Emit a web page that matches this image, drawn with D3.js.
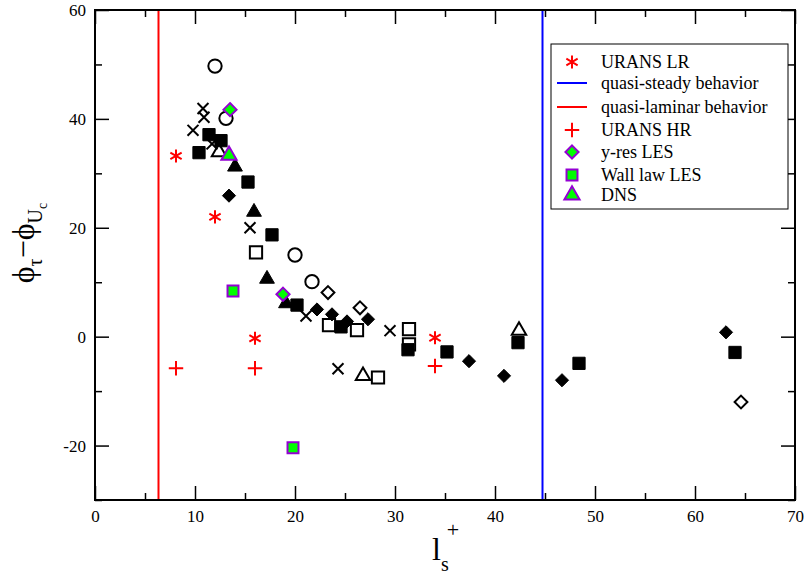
<!DOCTYPE html>
<html>
<head>
<meta charset="utf-8">
<script src="https://cdn.jsdelivr.net/npm/d3@7"></script>
<style>
  body { margin: 0; background: #fff; }
  svg { display: block; }
  .axis line { stroke: #000; stroke-width: 1.5; }
</style>
</head>
<body>
<div id="chart"></div>
<script>
// Phase difference vs. slip length, several simulation sets

const serif = '"Liberation Serif", "Times New Roman", serif';

// reference lines
const quasiLaminarX = [6.35];
const quasiSteadyX = [44.75];

// legend series
const uransLR = [[8.1, 33.2], [12.0, 22.0], [16.0, -0.3], [34.0, -0.2]];
const uransHR = [[8.1, -5.8], [16.0, -5.8], [34.0, -5.4]];
const yResLES = [[13.5, 41.7], [18.8, 7.8]];
const wallLawLES = [[13.8, 8.4], [19.8, -20.4]];
const dnsGreen = [[13.4, 33.3]];

// other data sets (black markers)
const openCircles = [[12.0, 49.7], [13.1, 40.1], [20.0, 15.0], [21.7, 10.1]];
const openSquares = [[16.1, 15.5], [23.4, 2.1], [26.2, 1.2], [28.3, -7.5], [31.4, 1.4], [31.4, -1.4]];
const openDiamonds = [[23.3, 8.1], [26.5, 5.3], [64.6, -12.0]];
const openTriangles = [[12.4, 33.9], [26.8, -7.2], [42.4, 1.1]];
const crosses = [[10.8, 41.9], [10.9, 40.3], [9.8, 37.9], [11.7, 35.4], [15.5, 20.0], [21.1, 3.8], [24.3, -5.9], [29.5, 1.1]];
const filledSquares = [[11.4, 37.1], [12.6, 36.0], [10.4, 33.8], [15.3, 28.4], [17.7, 18.7], [20.2, 5.8], [24.6, 1.8],
  [31.3, -2.4], [35.2, -2.8], [42.3, -1.1], [48.4, -4.9], [64.0, -2.9]];
const filledDiamonds = [[13.4, 25.9], [22.2, 5.0], [23.7, 4.1], [25.2, 2.8], [27.3, 3.2], [37.4, -4.5], [40.9, -7.2],
  [46.7, -8.0], [63.1, 0.8]];
const filledTriangles = [[14.0, 31.2], [15.9, 22.9], [17.2, 10.6], [19.1, 6.1]];

const xTicks = [0, 10, 20, 30, 40, 50, 60, 70];
const yTicks = [-20, 0, 20, 40, 60];

const W = 807, H = 577;
const svg = d3.select('#chart').append('svg').attr('width', W).attr('height', H)
  .attr('font-family', serif);

const x = d3.scaleLinear().domain([0, 70]).range([95, 795]);
const y = d3.scaleLinear().domain([-30, 60]).range([500, 10]);

const plotL = x(0), plotR = x(70), plotT = y(60), plotB = y(-30);

// Axes: ticks point inward on all four sides
function minor(step, domain) {
  return d3.range(domain[0], domain[1] + 0.001, step).filter(v => Math.abs(v % (step * 2)) > 1e-6);
}
const xMinor = minor(5, [0, 70]);
const yMinor = minor(10, [-30, 60]);
const label = d => String(d);

function addAxis(axis, tx, ty) {
  svg.append('g').attr('class', 'axis').attr('transform', `translate(${tx},${ty})`)
    .call(axis)
    .attr('font-family', serif)
    .attr('font-size', 17);
}

addAxis(d3.axisBottom(x).tickValues(xTicks).tickSizeInner(-14).tickSizeOuter(0).tickPadding(10).tickFormat(label), 0, plotB);
addAxis(d3.axisBottom(x).tickValues(xMinor).tickSizeInner(-7).tickSizeOuter(0).tickFormat(''), 0, plotB);
addAxis(d3.axisTop(x).tickValues(xTicks).tickSizeInner(-14).tickSizeOuter(0).tickFormat(''), 0, plotT);
addAxis(d3.axisTop(x).tickValues(xMinor).tickSizeInner(-7).tickSizeOuter(0).tickFormat(''), 0, plotT);
addAxis(d3.axisLeft(y).tickValues(yTicks).tickSizeInner(-14).tickSizeOuter(0).tickPadding(9).tickFormat(label), plotL, 0);
addAxis(d3.axisLeft(y).tickValues(yMinor).tickSizeInner(-7).tickSizeOuter(0).tickFormat(''), plotL, 0);
addAxis(d3.axisRight(y).tickValues(yTicks).tickSizeInner(-14).tickSizeOuter(0).tickFormat(''), plotR, 0);
addAxis(d3.axisRight(y).tickValues(yMinor).tickSizeInner(-7).tickSizeOuter(0).tickFormat(''), plotR, 0);

svg.selectAll('.axis .domain').remove();
svg.selectAll('.axis text').attr('fill', '#000');

// vertical behaviour limits
svg.selectAll('.vlam').data(quasiLaminarX).enter().append('line')
  .attr('x1', d => x(d)).attr('x2', d => x(d)).attr('y1', plotT).attr('y2', plotB)
  .attr('stroke', '#ff0000').attr('stroke-width', 2);
svg.selectAll('.vsteady').data(quasiSteadyX).enter().append('line')
  .attr('x1', d => x(d)).attr('x2', d => x(d)).attr('y1', plotT).attr('y2', plotB)
  .attr('stroke', '#0000ff').attr('stroke-width', 2);

// frame
svg.append('rect').attr('x', plotL).attr('y', plotT)
  .attr('width', plotR - plotL).attr('height', plotB - plotT)
  .attr('fill', 'none').attr('stroke', '#000').attr('stroke-width', 2);

// marker styles
const styles = {
  openCircle: { type: d3.symbolCircle, size: 140, fill: 'none', stroke: '#000', sw: 2 },
  openSquare: { type: d3.symbolSquare, size: 150, fill: 'none', stroke: '#000', sw: 2 },
  openDiamond: { type: d3.symbolDiamond2, size: 105, fill: 'none', stroke: '#000', sw: 2 },
  openTriangle: { type: d3.symbolTriangle, size: 90, fill: 'none', stroke: '#000', sw: 2 },
  cross: { type: d3.symbolTimes, size: 80, fill: 'none', stroke: '#000', sw: 2 },
  filledSquare: { type: d3.symbolSquare, size: 150, fill: '#000', stroke: '#000', sw: 1 },
  filledDiamond: { type: d3.symbolDiamond2, size: 110, fill: '#000', stroke: '#000', sw: 1 },
  filledTriangle: { type: d3.symbolTriangle, size: 95, fill: '#000', stroke: '#000', sw: 1 },
  asterisk: { type: d3.symbolAsterisk, size: 120, fill: 'none', stroke: '#ff0000', sw: 2 },
  plus: { type: d3.symbolPlus, size: 70, fill: 'none', stroke: '#ff0000', sw: 2 },
  greenDiamond: { type: d3.symbolDiamond2, size: 110, fill: '#00ff00', stroke: '#9400d3', sw: 2 },
  greenSquare: { type: d3.symbolSquare, size: 120, fill: '#00ff00', stroke: '#9400d3', sw: 2 },
  greenTriangle: { type: d3.symbolTriangle, size: 100, fill: '#00ff00', stroke: '#9400d3', sw: 2 }
};

function drawSeries(data, st) {
  const sym = d3.symbol().type(st.type).size(st.size);
  svg.append('g').selectAll('path').data(data).enter().append('path')
    .attr('transform', d => `translate(${x(d[0])},${y(d[1])})`)
    .attr('d', sym)
    .attr('fill', st.fill)
    .attr('stroke', st.stroke)
    .attr('stroke-width', st.sw);
}

drawSeries(openCircles, styles.openCircle);
drawSeries(openSquares, styles.openSquare);
drawSeries(openDiamonds, styles.openDiamond);
drawSeries(openTriangles, styles.openTriangle);
drawSeries(crosses, styles.cross);
drawSeries(filledSquares, styles.filledSquare);
drawSeries(filledDiamonds, styles.filledDiamond);
drawSeries(filledTriangles, styles.filledTriangle);
drawSeries(uransLR, styles.asterisk);
drawSeries(uransHR, styles.plus);
drawSeries(yResLES, styles.greenDiamond);
drawSeries(wallLawLES, styles.greenSquare);
drawSeries(dnsGreen, styles.greenTriangle);

// Legend
const legendItems = [
  { label: 'URANS LR', st: styles.asterisk, y: 62 },
  { label: 'quasi-steady behavior', line: '#0000ff', y: 83 },
  { label: 'quasi-laminar behavior', line: '#ff0000', y: 107 },
  { label: 'URANS HR', st: styles.plus, y: 130 },
  { label: 'y-res LES', st: styles.greenDiamond, y: 152 },
  { label: 'Wall law LES', st: styles.greenSquare, y: 175 },
  { label: 'DNS', st: styles.greenTriangle, y: 195 }
];

const legend = svg.append('g');
legend.append('rect').attr('x', 551).attr('y', 44).attr('width', 237).attr('height', 165)
  .attr('fill', '#fff').attr('stroke', '#000').attr('stroke-width', 1);

legendItems.forEach(it => {
  if (it.line) {
    legend.append('line').attr('x1', 557).attr('x2', 587).attr('y1', it.y).attr('y2', it.y)
      .attr('stroke', it.line).attr('stroke-width', 2);
  } else {
    legend.append('path')
      .attr('transform', `translate(572,${it.y})`)
      .attr('d', d3.symbol().type(it.st.type).size(it.st.size))
      .attr('fill', it.st.fill).attr('stroke', it.st.stroke).attr('stroke-width', it.st.sw);
  }
  legend.append('text').attr('x', 601).attr('y', it.y).attr('dy', '0.35em')
    .attr('font-size', 18).text(it.label);
});

// Axis titles
const xt = svg.append('text').attr('x', 432).attr('y', 560).attr('font-size', 32);
xt.append('tspan').text('l');
xt.append('tspan').attr('font-size', 20).attr('dy', 11).text('s');
xt.append('tspan').attr('font-size', 22).attr('dx', -2).attr('dy', -34).text('+');

const yt = svg.append('text').attr('transform', 'translate(34,243) rotate(-90)')
  .attr('text-anchor', 'middle').attr('font-size', 32);
yt.append('tspan').text('ϕ');
yt.append('tspan').attr('font-size', 20).attr('dy', 8).text('τ');
yt.append('tspan').attr('dy', -8).text('−ϕ');
yt.append('tspan').attr('font-size', 20).attr('dy', 8).text('U');
yt.append('tspan').attr('font-size', 14).attr('dy', 5).text('c');
</script>
</body>
</html>
